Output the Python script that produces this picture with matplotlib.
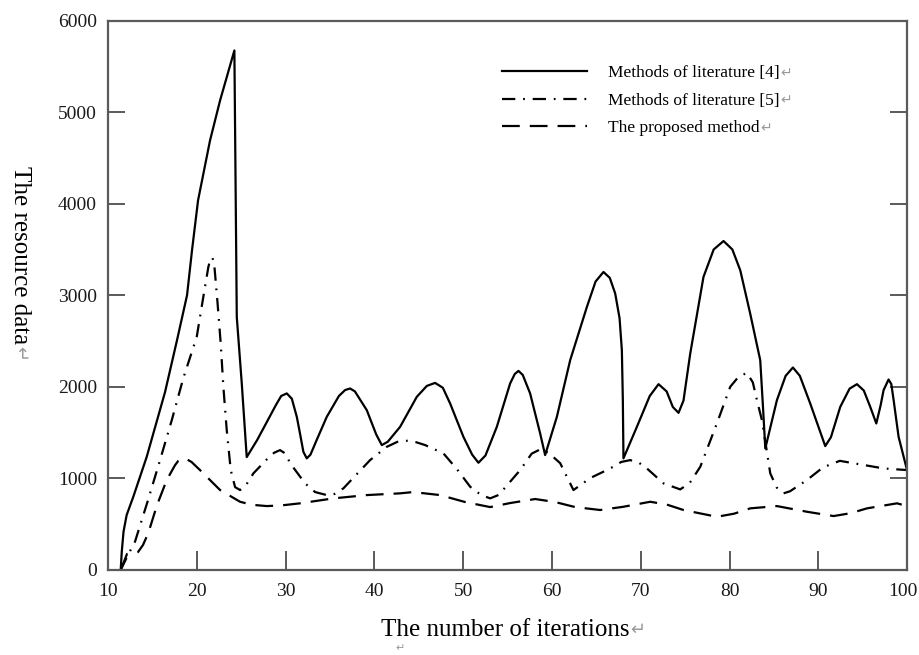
import matplotlib
matplotlib.use("Agg")
import matplotlib.pyplot as plt
from matplotlib.lines import Line2D
from matplotlib.transforms import ScaledTranslation

plt.rcParams['font.family'] = ['Liberation Serif', 'DejaVu Sans']

# ---- data ----
lit4_x = [11.43, 11.55, 11.75, 12.1, 12.85, 14.36, 16.42, 17.77, 18.90, 19.46, 20.14, 21.49, 22.62, 24.23,
          24.50, 25.06, 25.62, 26.8, 28.9, 29.5, 30.13, 30.7, 31.26, 31.6, 32.0, 32.38, 32.8, 33.5,
          34.63, 36.0, 36.7, 37.26, 37.8, 39.14, 40.2, 40.83, 41.5, 42.89, 44.77, 45.9, 46.83, 47.7,
          48.52, 50.02, 51.0, 51.71, 52.5, 53.78, 55.28, 55.8, 56.22, 56.7, 57.53, 58.66, 59.22,
          60.54, 62.04, 63.92, 64.9, 65.79, 66.5, 67.11, 67.6, 67.86, 67.97, 68.04, 69.55, 71.0,
          71.99, 72.9, 73.6, 74.24, 74.8, 75.56, 77.05, 78.2, 79.31, 80.3, 81.19, 82.31, 83.44,
          83.75, 84.01, 85.32, 86.3, 87.12, 87.9, 89.07, 90.76, 91.4, 92.45, 93.5, 94.33, 95.1,
          95.83, 96.51, 97.0, 97.33, 97.89, 98.2, 98.46, 99.02, 99.97]
lit4_y = [0, 200, 420, 600, 800, 1236, 1942, 2509, 3000, 3491, 4036, 4691, 5127, 5673,
          2763, 2040, 1233, 1420, 1800, 1900, 1928, 1870, 1672, 1500, 1290, 1219, 1260, 1420,
          1672, 1900, 1965, 1982, 1950, 1745, 1480, 1364, 1400, 1563, 1891, 2010, 2043, 1990,
          1819, 1454, 1260, 1171, 1250, 1563, 2037, 2140, 2174, 2130, 1928, 1491, 1255,
          1672, 2291, 2872, 3150, 3254, 3190, 3019, 2750, 2400, 1855, 1219, 1563, 1900,
          2029, 1950, 1780, 1716, 1850, 2364, 3200, 3500, 3592, 3500, 3273, 2800, 2291,
          1781, 1328, 1855, 2120, 2211, 2120, 1818, 1353, 1450, 1781, 1980, 2029, 1960,
          1781, 1600, 1800, 1964, 2080, 2030, 1855, 1454, 1091]

lit5_x = [11.43, 12.25, 13.04, 14.51, 15.86, 17.18, 18.48, 19.99, 20.73, 21.30, 21.55, 21.75, 21.95,
          22.31, 22.69, 22.99, 23.37, 23.82, 24.31, 24.87, 25.54, 26.37, 27.80, 28.7, 29.37, 30.0,
          30.50, 32.19, 33.32, 34.63, 35.5, 36.50, 39.51, 41.39, 42.6, 43.65, 44.7, 45.71, 47.77,
          49.3, 50.78, 52.0, 53.03, 54.0, 56.41, 57.7, 58.66, 59.6, 60.91, 62.41, 64.30, 66.55,
          67.8, 68.80, 69.8, 70.68, 72.55, 74.43, 75.5, 76.69, 78.56, 80.06, 81.0, 81.94, 82.6,
          83.07, 83.63, 84.57, 85.3, 86.07, 86.8, 88.70, 90.5, 92.40, 97.33, 99.97]
lit5_y = [0, 164, 309, 764, 1200, 1636, 2095, 2545, 2981, 3309, 3400, 3411, 3350,
          2945, 2476, 2000, 1527, 1091, 905, 873, 927, 1055, 1200, 1280, 1309, 1270,
          1167, 946, 851, 818, 830, 891, 1200, 1345, 1400, 1411, 1395, 1364, 1273,
          1100, 909, 820, 782, 820, 1091, 1270, 1317, 1280, 1167, 873, 1004, 1109,
          1180, 1200, 1170, 1109, 946, 880, 950, 1127, 1600, 2000, 2110, 2152, 2050,
          1855, 1636, 1055, 900, 837, 860, 982, 1120, 1192, 1109, 1091]

prop_x = [11.43, 12.14, 12.82, 13.38, 13.94, 14.54, 15.52, 16.61, 17.55, 17.9, 18.67, 19.4, 20.36,
          22.62, 24.87, 26.2, 27.88, 29.5, 31.63, 35.38, 39.14, 42.89, 44.35, 47.40, 50.21, 53.03,
          55.28, 58.10, 60.35, 62.60, 65.42, 68.0, 71.05, 72.9, 74.80, 78.56, 80.5, 82.31, 85.32,
          88.70, 91.70, 93.6, 95.46, 98.84, 99.97]
prop_y = [0, 175, 185, 196, 273, 404, 709, 982, 1145, 1190, 1219, 1180, 1091,
          873, 745, 712, 698, 705, 728, 782, 818, 837, 851, 818, 742, 687,
          731, 775, 742, 687, 655, 690, 745, 715, 655, 581, 615, 673, 698,
          636, 589, 620, 673, 728, 698]

x_ticks = [10, 20, 30, 40, 50, 60, 70, 80, 90, 100]
y_ticks = [0, 1000, 2000, 3000, 4000, 5000, 6000]
labels = ["Methods of literature [4]", "Methods of literature [5]", "The proposed method"]

W, H = 919, 655
fig = plt.figure(figsize=(W / 100, H / 100), dpi=100)
ax = fig.add_axes([108 / W, 1 - 570 / H, (907.3 - 108) / W, (570 - 20.5) / H])

lw = 1.6
dd = (6, 3.5, 0.8, 3.5)
dsh = (8, 4.5)
ax.plot(lit4_x, lit4_y, color='black', lw=lw, solid_joinstyle='round')
ax.plot(lit5_x, lit5_y, color='black', lw=lw, dashes=dd)
ax.plot(prop_x, prop_y, color='black', lw=lw, dashes=dsh)

ax.set_xlim(10, 100)
ax.set_ylim(0, 6000)
ax.set_xticks(x_ticks)
ax.set_yticks(y_ticks)
ax.set_xticklabels([str(v) for v in x_ticks])
ax.set_yticklabels([str(v) for v in y_ticks])

spine_col = '#5a5a5a'
for s in ax.spines.values():
    s.set_color(spine_col)
    s.set_linewidth(1.6)
ax.tick_params(axis='y', direction='in', length=12, width=1.4, color=spine_col,
               left=True, right=True, labelsize=14, pad=8, labelcolor='#1a1a1a')
ax.tick_params(axis='x', direction='in', length=14, width=1.4, color=spine_col,
               bottom=True, top=False, labelsize=14, pad=9, labelcolor='#1a1a1a')

handles = [Line2D([], [], color='black', lw=lw),
           Line2D([], [], color='black', lw=lw, dashes=dd),
           Line2D([], [], color='black', lw=lw, dashes=dsh)]
leg = ax.legend(handles, labels, loc='upper left', frameon=False,
                bbox_to_anchor=(502 / W, 1 - 65 / H), bbox_transform=fig.transFigure,
                fontsize=12.5, handlelength=4.9, handletextpad=1.2, labelspacing=0.66,
                borderpad=0, borderaxespad=0)

gray = '#9a9a9a'
fig.text(505 / W, 1 - 630 / H, "The number of iterations", ha='center', va='center', fontsize=18)
fig.text(20 / W, 1 - 255 / H, "The resource data", ha='center', va='center', fontsize=18,
         rotation=-90)

fig.canvas.draw()
last = ax.get_xticklabels()[-1]
last.set_transform(last.get_transform() + ScaledTranslation(-4 / 100, 0, fig.dpi_scale_trans))

r = fig.canvas.get_renderer()
for t in leg.get_texts():
    bb = t.get_window_extent(r)
    fig.text((bb.x1 + 1) / W, (bb.y0 + bb.y1) / 2 / H, "\u21b5", color=gray, fontsize=10,
             ha='left', va='center', family='DejaVu Sans')
for t in fig.texts[:2]:
    bb = t.get_window_extent(r)
    if t.get_rotation() == 0:
        fig.text((bb.x1 + 1) / W, (bb.y0 + bb.y1) / 2 / H, "\u21b5", color=gray, fontsize=13,
                 ha='left', va='center', family='DejaVu Sans')
    else:
        fig.text((bb.x0 + bb.x1) / 2 / W, (bb.y0 - 2) / H, "\u21b5", color=gray, fontsize=13,
                 ha='center', va='top', rotation=-90, family='DejaVu Sans')
fig.text(400 / W, 1 - 648 / H, "\u21b5", color=gray, fontsize=8, ha='center', va='center',
         family='DejaVu Sans')

fig.savefig("out.png", dpi=100)
